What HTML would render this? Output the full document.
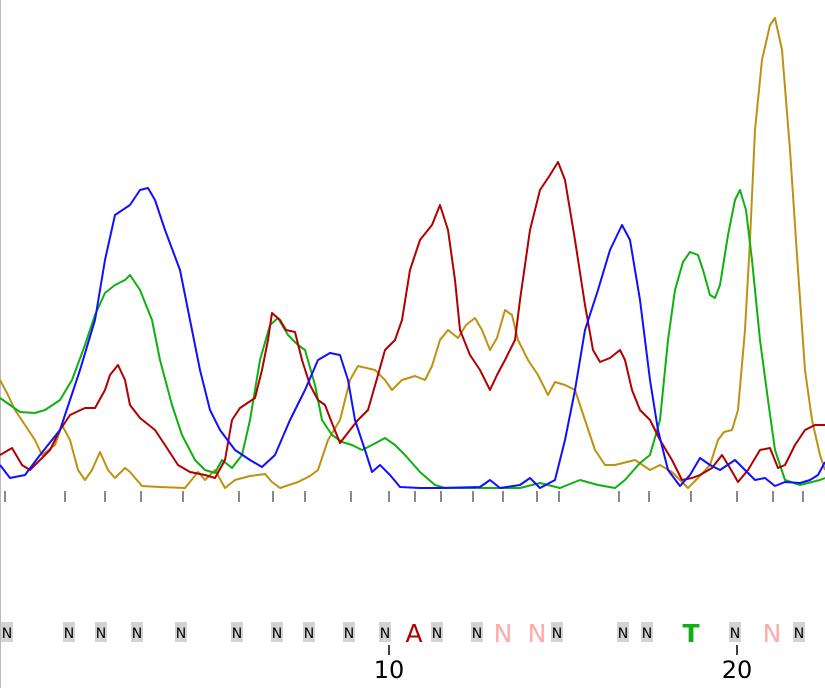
<!DOCTYPE html>
<html><head><meta charset="utf-8"><style>
html,body{margin:0;padding:0;background:#fff}
svg{display:block}
text{font-family:"DejaVu Sans","Liberation Sans",sans-serif}
</style></head><body>
<svg width="825" height="688" viewBox="0 0 825 688" xmlns="http://www.w3.org/2000/svg">
<rect width="825" height="688" fill="#fff"/>
<line x1="0.5" y1="0" x2="0.5" y2="688" stroke="#bbb" stroke-width="1"/>
<g fill="none" stroke-width="2" stroke-linejoin="round">
<polyline stroke="#c09010" points="0,380 8,395 15,410 25,425 35,440 42,455 55,445 62,425 70,440 78,470 85,480 92,470 100,452 108,470 115,478 125,468 130,472 142,486 160,487 185,488 198,472 205,480 215,470 225,488 235,480 250,476 265,474 272,482 280,488 298,482 310,476 318,470 328,440 340,420 350,380 358,366 375,370 385,380 392,390 402,380 415,376 425,380 432,366 440,340 448,330 458,338 466,325 475,318 482,330 490,350 497,338 505,310 512,315 518,340 528,360 538,375 548,395 555,382 565,385 575,390 585,420 595,450 605,465 615,465 635,460 650,470 660,465 672,472 680,480 688,488 698,478 710,465 718,440 724,432 732,430 738,410 745,330 750,240 755,130 762,60 770,25 775,18 782,50 790,150 798,270 805,370 812,420 820,455 825,470"/>
<polyline stroke="#10b010" points="0,398 10,405 20,412 35,413 45,410 60,400 72,380 85,345 95,315 105,293 115,285 125,280 130,275 140,290 152,320 160,360 172,405 182,435 195,460 205,470 215,473 222,460 232,468 242,455 250,420 260,360 270,325 278,318 288,335 298,345 305,350 315,385 322,420 332,435 342,442 352,445 362,450 372,445 385,438 395,445 405,455 420,472 435,485 445,488 520,488 540,483 560,488 580,480 598,485 615,488 625,480 640,463 650,455 660,420 668,340 675,290 683,262 690,252 698,255 703,270 710,295 715,298 720,285 728,235 735,200 740,190 746,210 752,260 760,340 768,400 775,450 785,480 800,485 820,480 825,478"/>
<polyline stroke="#b00000" points="0,455 12,448 22,465 30,470 40,460 50,450 60,430 70,415 85,408 95,408 105,390 110,375 118,365 125,380 130,405 140,418 155,430 165,445 178,465 190,472 205,475 215,478 225,460 232,420 240,408 255,398 262,370 268,340 272,313 280,320 286,330 295,332 302,360 310,385 318,400 325,405 330,418 340,443 350,430 358,420 368,410 378,375 385,350 395,340 402,320 410,270 420,240 432,225 440,205 448,230 455,280 460,330 470,355 480,370 490,390 497,375 505,360 515,340 520,300 530,230 540,190 550,175 558,162 565,180 575,240 585,305 593,350 600,362 610,358 620,350 625,360 632,390 640,410 650,420 660,440 672,460 682,480 692,478 700,475 712,468 722,455 730,468 738,482 748,470 760,450 770,448 778,468 785,465 795,445 805,430 815,425 825,425"/>
<polyline stroke="#1010ff" points="0,465 10,478 25,475 40,455 60,430 80,370 95,320 105,260 115,215 130,205 140,190 148,188 155,200 165,230 180,270 190,320 200,370 210,410 220,430 235,450 250,460 262,467 275,455 290,420 305,390 318,360 330,353 340,355 348,380 355,420 365,450 372,472 380,465 390,475 400,487 420,488 440,488 480,487 490,480 500,488 520,485 530,478 540,488 555,480 565,440 575,390 585,330 598,290 610,250 622,225 630,240 640,300 650,380 658,430 668,470 680,486 690,475 700,458 710,465 720,470 735,460 745,470 755,480 765,478 775,486 785,482 800,483 810,480 818,475 825,462"/>
</g>
<g stroke="#888" stroke-width="2">
<line x1="5" y1="491" x2="5" y2="502"/><line x1="65" y1="491" x2="65" y2="502"/><line x1="105" y1="491" x2="105" y2="502"/><line x1="141" y1="491" x2="141" y2="502"/><line x1="183" y1="491" x2="183" y2="502"/><line x1="239" y1="491" x2="239" y2="502"/><line x1="273" y1="491" x2="273" y2="502"/><line x1="305" y1="491" x2="305" y2="502"/><line x1="351" y1="491" x2="351" y2="502"/><line x1="389" y1="491" x2="389" y2="502"/><line x1="415" y1="491" x2="415" y2="502"/><line x1="441" y1="491" x2="441" y2="502"/><line x1="473" y1="491" x2="473" y2="502"/><line x1="503" y1="491" x2="503" y2="502"/><line x1="537" y1="491" x2="537" y2="502"/><line x1="559" y1="491" x2="559" y2="502"/><line x1="619" y1="491" x2="619" y2="502"/><line x1="649" y1="491" x2="649" y2="502"/><line x1="691" y1="491" x2="691" y2="502"/><line x1="737" y1="491" x2="737" y2="502"/><line x1="773" y1="491" x2="773" y2="502"/><line x1="803" y1="491" x2="803" y2="502"/>
</g>
<g fill="#d3d3d3">
<rect x="1" y="622" width="12" height="20"/><rect x="63" y="622" width="12" height="20"/><rect x="95" y="622" width="12" height="20"/><rect x="131" y="622" width="12" height="20"/><rect x="175" y="622" width="12" height="20"/><rect x="231" y="622" width="12" height="20"/><rect x="271" y="622" width="12" height="20"/><rect x="303" y="622" width="12" height="20"/><rect x="343" y="622" width="12" height="20"/><rect x="379" y="622" width="12" height="20"/><rect x="431" y="622" width="12" height="20"/><rect x="471" y="622" width="12" height="20"/><rect x="551" y="622" width="12" height="20"/><rect x="617" y="622" width="12" height="20"/><rect x="641" y="622" width="12" height="20"/><rect x="729" y="622" width="12" height="20"/><rect x="793" y="622" width="12" height="20"/>
</g>
<g font-size="14" fill="#000" text-anchor="middle">
<text x="7" y="638">N</text><text x="69" y="638">N</text><text x="101" y="638">N</text><text x="137" y="638">N</text><text x="181" y="638">N</text><text x="237" y="638">N</text><text x="277" y="638">N</text><text x="309" y="638">N</text><text x="349" y="638">N</text><text x="385" y="638">N</text><text x="437" y="638">N</text><text x="477" y="638">N</text><text x="557" y="638">N</text><text x="623" y="638">N</text><text x="647" y="638">N</text><text x="735" y="638">N</text><text x="799" y="638">N</text>
</g>
<g font-size="25" text-anchor="middle">
<text x="414" y="642" fill="#b00000">A</text>
<text x="503" y="642" fill="#ffaaaa">N</text>
<text x="537" y="642" fill="#ffaaaa">N</text>
<text x="772" y="642" fill="#ffaaaa">N</text>
<text x="691" y="642" fill="#10b010" font-weight="bold">T</text>
</g>
<g stroke="#000" stroke-width="1.5"><line x1="389" y1="645" x2="389" y2="655"/><line x1="737" y1="645" x2="737" y2="655"/></g>
<g font-size="24" fill="#000" text-anchor="middle">
<text x="389" y="678">10</text><text x="737" y="678">20</text>
</g>
</svg>
</body></html>
